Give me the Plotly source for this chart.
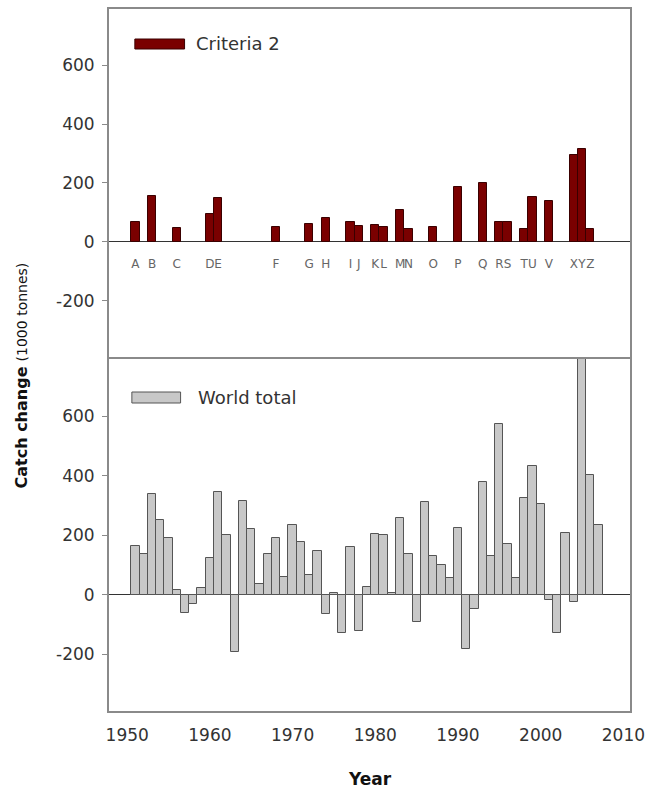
import plotly.graph_objects as go

# ---- data ----
world_years = list(range(1951, 2008))
world_total = [165, 137, 340, 251, 193, 15, -62, -31, 22, 123,
               346, 200, -193, 317, 221, 37, 138, 190, 62, 234,
               178, 67, 149, -64, 5, -129, 160, -120, 26, 205,
               203, 8, 258, 137, -92, 314, 132, 101, 56, 224,
               -183, -48, 379, 131, 574, 171, 56, 327, 435, 305,
               -17, -129, 207, -22, 810, 403, 234]

crit_years = [1951, 1953, 1956, 1960, 1961, 1968, 1972, 1974, 1977, 1978,
              1980, 1981, 1983, 1984, 1987, 1990, 1993, 1995, 1996, 1998,
              1999, 2001, 2004, 2005, 2006]
crit_values = [68, 155, 47, 96, 150, 52, 61, 82, 66, 55,
               57, 49, 110, 43, 49, 185, 200, 68, 68, 43,
               153, 139, 296, 316, 43]
crit_labels = ["A", "B", "C", "D", "E", "F", "G", "H", "I", "J",
               "K", "L", "M", "N", "O", "P", "Q", "R", "S", "T",
               "U", "V", "X", "Y", "Z"]

y_ticks = [-200, 0, 200, 400, 600]
y_ticktext = ["-200", "0", "200", "400", "600"]
x_ticks = [1950, 1960, 1970, 1980, 1990, 2000, 2010]

FONT = "DejaVu Sans"
W, H = 654, 791
L, R, T, B = 109, 633, 9, 711
SPLIT = 359
LINE = "#8a8a8a"

fig = go.Figure()

fig.add_trace(go.Bar(x=crit_years, y=crit_values, width=1, name="Criteria 2",
                     marker=dict(color="#7a0000", line=dict(color="#3a0000", width=1)),
                     xaxis="x2", yaxis="y2", showlegend=False))
fig.add_trace(go.Scatter(x=crit_years, y=[-78] * len(crit_years), text=crit_labels,
                         mode="text", textfont=dict(family=FONT, size=12, color="#666666"),
                         xaxis="x2", yaxis="y2", showlegend=False, hoverinfo="skip"))
fig.add_trace(go.Bar(x=world_years, y=world_total, width=1, name="World total",
                     marker=dict(color="#c8c8c8", line=dict(color="#555555", width=1)),
                     xaxis="x", yaxis="y", showlegend=False))

split = (B - SPLIT) / (B - T)
tickfont = dict(family=FONT, size=17, color="#333333")

fig.update_layout(
    width=W, height=H,
    margin=dict(l=L, r=W - R, t=T, b=H - B),
    plot_bgcolor="white", paper_bgcolor="white",
    bargap=0,
    xaxis=dict(domain=[0, 1], range=[1947.8, 2010.8], tickvals=x_ticks, ticks="",
               tickfont=tickfont, ticklabelstandoff=8,
               zeroline=False, showgrid=False,
               showline=True, linecolor=LINE, linewidth=2, mirror=True),
    yaxis=dict(domain=[0, split], range=[-390, 793], tickvals=y_ticks, ticktext=y_ticktext,
               ticks="outside", ticklen=5, tickcolor=LINE, tickwidth=1,
               tickfont=tickfont, ticklabelstandoff=4, showgrid=False,
               showline=True, linecolor=LINE, linewidth=2, mirror=True,
               zeroline=True, zerolinecolor="#333333", zerolinewidth=1),
    xaxis2=dict(domain=[0, 1], range=[1947.8, 2010.8], anchor="y2", side="top",
                showticklabels=False, ticks="", zeroline=False, showgrid=False,
                showline=True, linecolor=LINE, linewidth=2, mirror=False),
    yaxis2=dict(domain=[split, 1], range=[-397, 790], anchor="x2", tickvals=y_ticks,
                ticktext=y_ticktext, ticks="outside", ticklen=5, tickcolor=LINE, tickwidth=1,
                tickfont=tickfont, ticklabelstandoff=4, showgrid=False,
                showline=True, linecolor=LINE, linewidth=2, mirror=True,
                zeroline=True, zerolinecolor="#333333", zerolinewidth=1),
)

# custom legends
fig.add_shape(type="rect", xref="x2 domain", yref="y2 domain",
              x0=(135 - L) / (R - L), x1=(185 - L) / (R - L),
              y0=(SPLIT - 49) / (SPLIT - T), y1=(SPLIT - 39) / (SPLIT - T),
              fillcolor="#7a0000", line=dict(color="#3a0000", width=1))
fig.add_annotation(xref="x2 domain", yref="y2 domain", x=(194 - L) / (R - L),
                   y=(SPLIT - 44) / (SPLIT - T), text="Criteria 2", showarrow=False,
                   xanchor="left", yanchor="middle",
                   font=dict(family=FONT, size=18, color="#333333"))
fig.add_shape(type="rect", xref="x domain", yref="y domain",
              x0=(132 - L) / (R - L), x1=(181 - L) / (R - L),
              y0=(B - 403) / (B - SPLIT), y1=(B - 392) / (B - SPLIT),
              fillcolor="#c8c8c8", line=dict(color="#555555", width=1))
fig.add_annotation(xref="x domain", yref="y domain", x=(197 - L) / (R - L),
                   y=(B - 397.5) / (B - SPLIT), text="World total", showarrow=False,
                   xanchor="left", yanchor="middle",
                   font=dict(family=FONT, size=18, color="#333333"))

# axis titles
fig.add_annotation(xref="paper", yref="paper", x=(22 - L) / (R - L), y=(B - 375) / (B - T),
                   text="<b>Catch change</b> <span style='font-size:14px'>(1000 tonnes)</span>",
                   textangle=-90, showarrow=False, xanchor="center", yanchor="middle",
                   font=dict(family=FONT, size=16, color="#111111"))
fig.add_annotation(xref="paper", yref="paper", x=(371 - L) / (R - L), y=(B - 779) / (B - T),
                   text="<b>Year</b>", showarrow=False, xanchor="center", yanchor="middle",
                   font=dict(family=FONT, size=17, color="#111111"))

fig.write_html("out.html")
